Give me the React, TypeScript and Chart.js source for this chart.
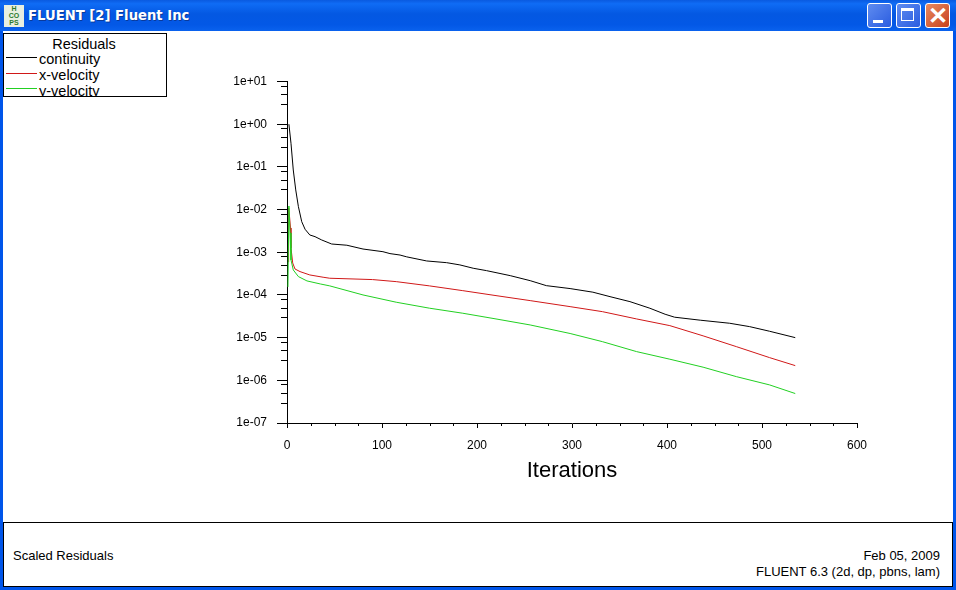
import React, { useEffect, useRef } from "react";
import { Chart, registerables } from "chart.js";

Chart.register(...registerables);

const continuityX = [2, 4.2, 6.6, 9.2, 12, 15.5, 19, 24, 29.5, 36.5, 47, 63, 80, 101, 108.4, 119, 126, 147, 168, 182, 196, 210, 235, 256, 273, 298, 322, 340, 361, 382, 398, 408, 435, 466, 487, 508, 535];
const continuityY = [1.0, 0.357, 0.0845, 0.0288, 0.0117, 0.0052, 0.00346, 0.00254, 0.00232, 0.00194, 0.00156, 0.00146, 0.00119, 0.00103, 0.00093, 0.00086, 0.00078, 0.000625, 0.00057, 0.000505, 0.000422, 0.000371, 0.000283, 0.000216, 0.000165, 0.000141, 0.000116, 0.0000912, 0.0000697, 0.0000488, 0.0000353, 0.0000301, 0.0000256, 0.0000217, 0.0000181, 0.0000141, 0.00001];

const xVelocityX = [1.3, 1.7, 2.6, 3.7, 4.2, 6, 8.4, 13.7, 24, 38, 45, 90, 115, 150, 185, 220, 256, 298, 332, 368, 403, 438, 473, 508, 535];
const xVelocityY = [0.000593, 0.0109, 0.00708, 0.00371, 0.00126, 0.000561, 0.000406, 0.000352, 0.000294, 0.00026, 0.000246, 0.000229, 0.000205, 0.000163, 0.000126, 0.0000964, 0.0000736, 0.0000532, 0.0000406, 0.0000274, 0.0000191, 0.000011, 0.00000615, 0.0000034, 0.00000221];

const yVelocityX = [1, 2, 3.2, 4.2, 6.6, 12, 21, 35, 45, 80, 115, 150, 185, 220, 256, 298, 332, 368, 403, 438, 473, 508, 535];
const yVelocityY = [0.000154, 0.0121, 0.00283, 0.00066, 0.000385, 0.000269, 0.000213, 0.000181, 0.000163, 0.0001, 0.0000675, 0.0000489, 0.0000373, 0.0000274, 0.0000198, 0.0000125, 0.00000805, 0.0000047, 0.00000312, 0.00000203, 0.00000122, 0.00000078, 0.00000049];

const yTickValues = [1e-7, 1e-6, 1e-5, 1e-4, 1e-3, 1e-2, 1e-1, 1, 10];
const yTickLabels = ["1e-07", "1e-06", "1e-05", "1e-04", "1e-03", "1e-02", "1e-01", "1e+00", "1e+01"];
const yMinorFactors = [3, 5, 8];
const xMinorTicks = [25, 50, 75, 125, 150, 175, 225, 250, 275, 325, 350, 375, 425, 450, 475, 525, 550, 575];

const seriesNames = ["continuity", "x-velocity", "y-velocity"];
const seriesColors = ["#000000", "#d01818", "#22d022"];

const toPoints = (xs: number[], ys: number[]) => xs.map((x, i) => ({ x, y: ys[i] }));

const FONT = '"Liberation Sans", Arial, sans-serif';

const minorTicks = {
  id: "minorTicks",
  afterDraw(chart: any) {
    const { ctx } = chart;
    const xs = chart.scales.x;
    const ys = chart.scales.y;
    ctx.save();
    ctx.strokeStyle = "#000";
    ctx.lineWidth = 1;
    ctx.beginPath();
    yTickValues.slice(0, -1).forEach((d) => {
      yMinorFactors.forEach((f) => {
        const p = Math.round(ys.getPixelForValue(d * f)) + 0.5;
        ctx.moveTo(xs.left - 6, p);
        ctx.lineTo(xs.left, p);
      });
    });
    xMinorTicks.forEach((v) => {
      const p = Math.round(xs.getPixelForValue(v)) + 0.5;
      ctx.moveTo(p, ys.bottom);
      ctx.lineTo(p, ys.bottom + 3);
    });
    ctx.stroke();
    ctx.restore();
  },
};

const abs = (left: number, top: number, width: number, height: number): React.CSSProperties => ({
  position: "absolute",
  left,
  top,
  width,
  height,
});

const btn = (left: number, bg: string): React.CSSProperties => ({
  ...abs(left, 3, 23, 23),
  background: bg,
  border: "1px solid #fff",
  borderRadius: 3,
});

export default function App() {
  const ref = useRef<HTMLCanvasElement>(null);

  useEffect(() => {
    if (!ref.current) return;
    const chart = new Chart(ref.current, {
      type: "line",
      plugins: [minorTicks],
      data: {
        datasets: [
          { label: seriesNames[0], data: toPoints(continuityX, continuityY), borderColor: seriesColors[0], order: 2 },
          { label: seriesNames[1], data: toPoints(xVelocityX, xVelocityY), borderColor: seriesColors[1], order: 1 },
          { label: seriesNames[2], data: toPoints(yVelocityX, yVelocityY), borderColor: seriesColors[2], order: 0 },
        ],
      },
      options: {
        responsive: false,
        animation: false,
        devicePixelRatio: 1,
        parsing: false,
        layout: { padding: { left: 0, top: 81.5, right: 99, bottom: 106 } },
        elements: {
          point: { radius: 0 },
          line: { borderWidth: 1, tension: 0 },
        },
        plugins: { legend: { display: false }, tooltip: { enabled: false } },
        scales: {
          x: {
            type: "linear",
            min: 0,
            max: 600,
            grid: { drawOnChartArea: false, tickLength: 5, color: "#000", tickColor: "#000" },
            border: { color: "#000" },
            ticks: { stepSize: 100, color: "#000", padding: 10, maxRotation: 0, font: { family: FONT, size: 12 } },
            title: {
              display: true,
              text: "Iterations",
              color: "#000",
              padding: 0,
              font: { family: FONT, size: 22 },
            },
            afterFit(scale: any) {
              scale.height = 61;
            },
          },
          y: {
            type: "logarithmic",
            min: 1e-7,
            max: 10,
            grid: { drawOnChartArea: false, tickLength: 10, color: "#000", tickColor: "#000" },
            border: { color: "#000" },
            ticks: {
              color: "#000",
              padding: 10,
              autoSkip: false,
              font: { family: FONT, size: 12 },
              callback: (_v: any, i: number) => yTickLabels[i],
            },
            afterBuildTicks(scale: any) {
              scale.ticks = yTickValues.map((value) => ({ value, major: true }));
            },
            afterFit(scale: any) {
              scale.width = 287;
            },
          },
        },
      },
    } as any);
    return () => chart.destroy();
  }, []);

  return (
    <div
      style={{
        position: "fixed",
        left: 0,
        top: 0,
        width: 956,
        height: 590,
        overflow: "hidden",
        background: "#0055ea",
        fontFamily: FONT,
      }}
    >
      <div
        style={{
          ...abs(0, 0, 956, 31),
          background: "linear-gradient(to bottom,#0a5ae0 0%,#0f6cf5 12%,#0458e2 45%,#0358e6 80%,#0a62ee 100%)",
        }}
      />
      <div style={{ ...abs(4, 5, 20, 22), background: "#e8efe0", color: "#2c7a2c", font: `bold 7px/7px ${FONT}`, textAlign: "center" }}>
        H<br />CO<br />PS
      </div>
      <div
        style={{
          ...abs(28, 6, 400, 20),
          color: "#fff",
          font: 'bold 13.2px/20px "DejaVu Sans", sans-serif',
          whiteSpace: "nowrap",
          textShadow: "1px 1px 0 #0a3a9a",
        }}
      >
        FLUENT [2] Fluent Inc
      </div>
      <div style={btn(867, "linear-gradient(135deg,#5f8cf0,#2a5ce0)")}>
        <div style={{ ...abs(5, 16, 10, 3), background: "#fff" }} />
      </div>
      <div style={btn(896, "linear-gradient(135deg,#5f8cf0,#2a5ce0)")}>
        <div style={{ ...abs(4, 4, 13, 13), border: "1px solid #fff", borderTopWidth: 3, boxSizing: "border-box" }} />
      </div>
      <div
        style={{
          ...btn(925, "linear-gradient(135deg,#e88a60,#c8401c)"),
          color: "#fff",
          font: `bold 24px/23px ${FONT}`,
          textAlign: "center",
        }}
      >
        ✕
      </div>

      <div style={{ ...abs(3, 31, 950, 556), background: "#fff" }} />

      <canvas ref={ref} width={956} height={590} style={{ ...abs(0, 0, 956, 590), display: "block" }} />

      <div
        style={{
          ...abs(3, 33, 164, 64),
          boxSizing: "border-box",
          border: "1px solid #000",
          background: "#fff",
          overflow: "hidden",
          fontSize: 14.5,
          lineHeight: "16px",
          color: "#000",
        }}
      >
        <div style={{ ...abs(0, 2, 160, 16), textAlign: "center" }}>Residuals</div>
        {seriesNames.map((name, i) => (
          <React.Fragment key={name}>
            <div style={{ ...abs(2, 23 + i * 15.5, 31, 1), background: seriesColors[i] }} />
            <div style={{ ...abs(35, 17 + i * 15.5 + (i === 2 ? 1 : 0), 120, 16) }}>{name}</div>
          </React.Fragment>
        ))}
      </div>

      <div
        style={{
          ...abs(3, 522, 950, 65),
          boxSizing: "border-box",
          border: "1px solid #000",
          background: "#fff",
          fontSize: 13,
          color: "#000",
        }}
      >
        <div style={{ ...abs(9, 25, 300, 15), lineHeight: "15px" }}>Scaled Residuals</div>
        <div style={{ position: "absolute", right: 12, top: 25, lineHeight: "15px" }}>Feb 05, 2009</div>
        <div style={{ position: "absolute", right: 12, top: 41, lineHeight: "15px" }}>FLUENT 6.3 (2d, dp, pbns, lam)</div>
      </div>
    </div>
  );
}
